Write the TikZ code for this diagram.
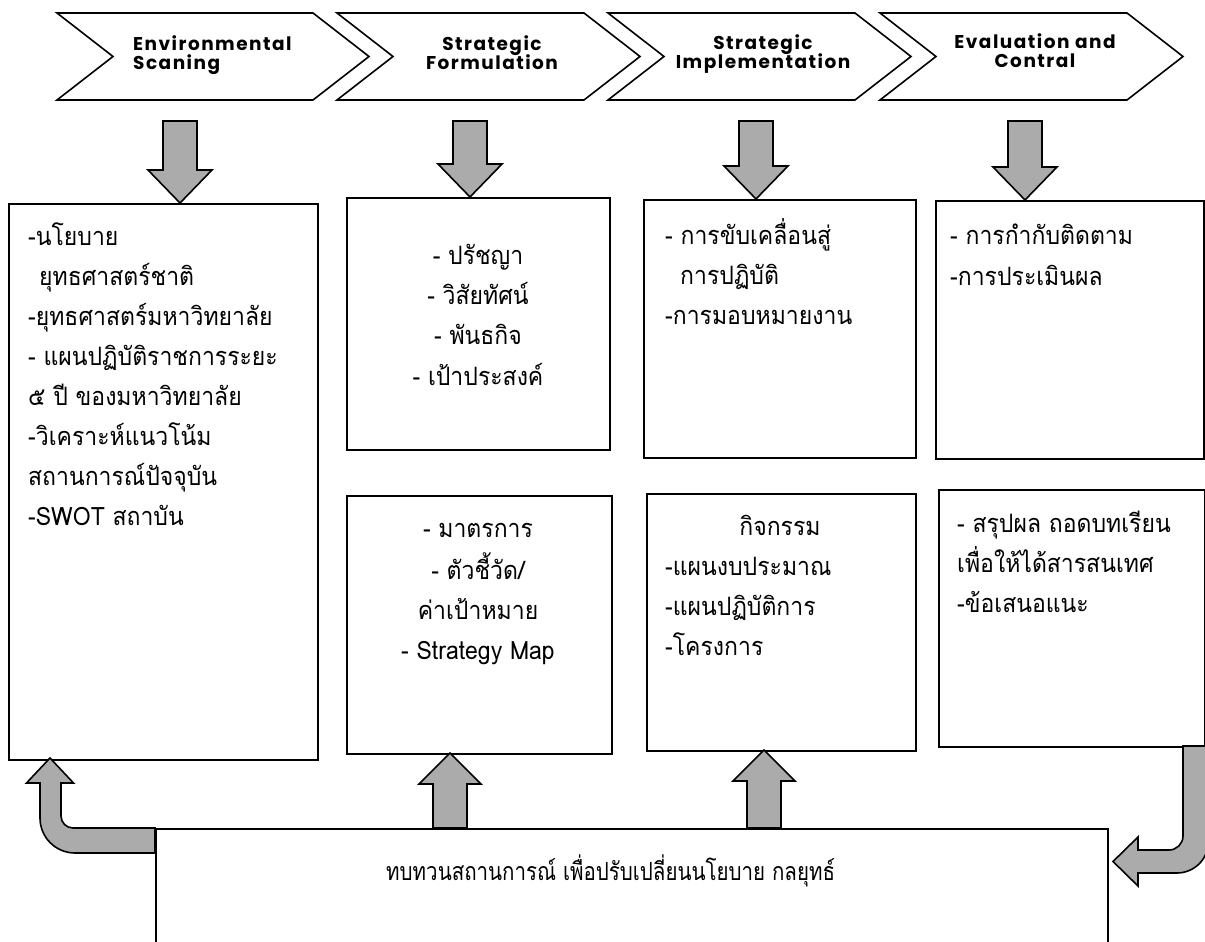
\documentclass[tikz,border=0pt]{standalone}
\usepackage{fontspec}
\newfontfamily\thai[Script=Thai]{Loma}
\newfontfamily\chev[LetterSpace=8]{Poppins}
\usetikzlibrary{calc}
\newcommand\tx[1]{\scalebox{1}[1.1]{#1}}
\newcommand\downblk[3]{\draw[blk] (#1-17,#3) -- (#1+17,#3) -- (#1+17,#2-33) -- (#1+32,#2-33) -- (#1,#2) -- (#1-32,#2-33) -- (#1-17,#2-33) -- cycle;}
\newcommand\upblk[3]{\draw[blk] (#1-17,#3) -- (#1-17,#2+31) -- (#1-31,#2+31) -- (#1,#2) -- (#1+31,#2+31) -- (#1+17,#2+31) -- (#1+17,#3) -- cycle;}
\begin{document}
\begin{tikzpicture}[x=1pt,y=-1pt, line join=miter,
  chevron/.style={draw, line width=1.6pt, fill=white},
  boxst/.style={draw, line width=1.5pt, inner sep=0pt, anchor=north west},
  blk/.style={draw, line width=1.6pt, fill=black!33},
  ctext/.style={font=\chev\bfseries\fontsize{18.5}{21}\selectfont, inner sep=0pt},
  tl/.style={font=\thai\fontsize{23}{40}\selectfont, inner sep=0pt, anchor=base west},
  tc/.style={font=\thai\fontsize{23}{40}\selectfont, inner sep=0pt, anchor=base},
]
\useasboundingbox (0,0) rectangle (1205,942);
\clip (0,0) rectangle (1205,942);
\fill[white] (0,0) rectangle (1205,942);

% chevrons
\draw[chevron] (57,13) -- (313,13) -- (369,56.5) -- (313,100) -- (57,100) -- (113,56.5) -- cycle;
\draw[chevron] (337,13) -- (584,13) -- (640,56.5) -- (584,100) -- (337,100) -- (393,56.5) -- cycle;
\draw[chevron] (608,13) -- (855,13) -- (911,56.5) -- (855,100) -- (608,100) -- (664,56.5) -- cycle;
\draw[chevron] (880,13) -- (1127,13) -- (1183,56.5) -- (1127,100) -- (880,100) -- (936,56.5) -- cycle;

\node[ctext, anchor=base west] (c1a) at (133,51) {Environmental};
\node[ctext, anchor=base west] (c1b) at (133,70) {Scaning};
\node[ctext, anchor=base] (c2a) at (492,51) {Strategic};
\node[ctext, anchor=base] (c2b) at (492,70) {Formulation};
\node[ctext, anchor=base] (c3a) at (763,50) {Strategic};
\node[ctext, anchor=base] (c3b) at (763,69) {Implementation};
\node[ctext, anchor=base] (c4a) at (1035,49) {Evaluation and};
\node[ctext, anchor=base] (c4b) at (1035,68) {Contral};

% down arrows
\downblk{180}{203}{121}
\downblk{470}{197}{121}
\downblk{756}{199}{121}
\downblk{1025}{200}{121}

% boxes
\node[boxst, minimum width=309pt, minimum height=556pt] (b1) at (8,203) {};
\node[boxst, minimum width=263pt, minimum height=252pt] (b2) at (346,197) {};
\node[boxst, minimum width=272pt, minimum height=258pt] (b3) at (643,199) {};
\node[boxst, minimum width=268pt, minimum height=258pt] (b4) at (935,200) {};
\node[boxst, minimum width=265pt, minimum height=258pt] (b2b) at (346,495) {};
\node[boxst, minimum width=269pt, minimum height=257pt] (b3b) at (646,493) {};
\node[boxst, minimum width=266pt, minimum height=257pt] (b4b) at (938,489) {};

% up arrows
\upblk{450}{753}{828}
\upblk{764}{750}{828}

% bent arrows
\draw[blk] (155,828) -- (73,828) .. controls (66.4,828) and (61,822.6) .. (61,816) -- (61,783) -- (73.5,783) -- (50,758) -- (26.5,783) -- (40,783) -- (40,818) .. controls (40,837.3) and (55.7,853) .. (75,853) -- (155,853) -- cycle;
\draw[blk] (1183,746) -- (1183,836) .. controls (1183,843.7) and (1176.7,850) .. (1169,850) -- (1138,850) -- (1138,837) -- (1113,861.5) -- (1138,886) -- (1138,873) -- (1177,873) .. controls (1193.6,873) and (1208,859.6) .. (1208,843) -- (1208,746) -- cycle;

% bottom box
\node[boxst, minimum width=952pt, minimum height=140pt] (bb) at (155,828) {};

% box 1 text
\node[tl] (t11) at (28,245) {\tx{-นโยบาย}};
\node[tl] (t12) at (39,285) {\tx{ยุทธศาสตร์ชาติ}};
\node[tl] (t13) at (28,325) {\tx{-ยุทธศาสตร์มหาวิทยาลัย}};
\node[tl] (t14) at (28,365) {\tx{- แผนปฏิบัติราชการระยะ}};
\node[tl] (t15) at (28,405) {\tx{๕ ปี ของมหาวิทยาลัย}};
\node[tl] (t16) at (28,445) {\tx{-วิเคราะห์แนวโน้ม}};
\node[tl] (t17) at (28,485) {\tx{สถานการณ์ปัจจุบัน}};
\node[tl] (t18) at (28,525) {\tx{-SWOT สถาบัน}};

% box 2 text
\node[tc] (t21) at (478,264) {\tx{- ปรัชญา}};
\node[tc] (t22) at (478,304) {\tx{- วิสัยทัศน์}};
\node[tc] (t23) at (478,344) {\tx{- พันธกิจ}};
\node[tc] (t24) at (478,385) {\tx{- เป้าประสงค์}};

% box 3 text
\node[tl] (t31) at (665,244) {\tx{- การขับเคลื่อนสู่}};
\node[tl] (t32) at (680,284) {\tx{การปฏิบัติ}};
\node[tl] (t33) at (665,324) {\tx{-การมอบหมายงาน}};

% box 4 text
\node[tl] (t41) at (950,244) {\tx{- การกำกับติดตาม}};
\node[tl] (t42) at (950,285) {\tx{-การประเมินผล}};

% box 2b text
\node[tc] (t51) at (478,537) {\tx{- มาตรการ}};
\node[tc] (t52) at (478,579) {\tx{- ตัวชี้วัด/}};
\node[tc] (t53) at (478,619) {\tx{ค่าเป้าหมาย}};
\node[tc] (t54) at (478,659) {\tx{- Strategy Map}};

% box 3b text
\node[tc] (t61) at (780,535) {\tx{กิจกรรม}};
\node[tl] (t62) at (665,575) {\tx{-แผนงบประมาณ}};
\node[tl] (t63) at (665,615) {\tx{-แผนปฏิบัติการ}};
\node[tl] (t64) at (665,655) {\tx{-โครงการ}};

% box 4b text
\node[tl] (t71) at (957,532) {\tx{- สรุปผล ถอดบทเรียน}};
\node[tl] (t72) at (957,572) {\tx{เพื่อให้ได้สารสนเทศ}};
\node[tl] (t73) at (957,612) {\tx{-ข้อเสนอแนะ}};

% bottom text
\node[font=\thai\fontsize{20.5}{30}\selectfont, inner sep=0pt, anchor=base west] (t81) at (386,880) {\scalebox{1}[1.22]{ทบทวนสถานการณ์ เพื่อปรับเปลี่ยนนโยบาย กลยุทธ์}};
\end{tikzpicture}
\end{document}
